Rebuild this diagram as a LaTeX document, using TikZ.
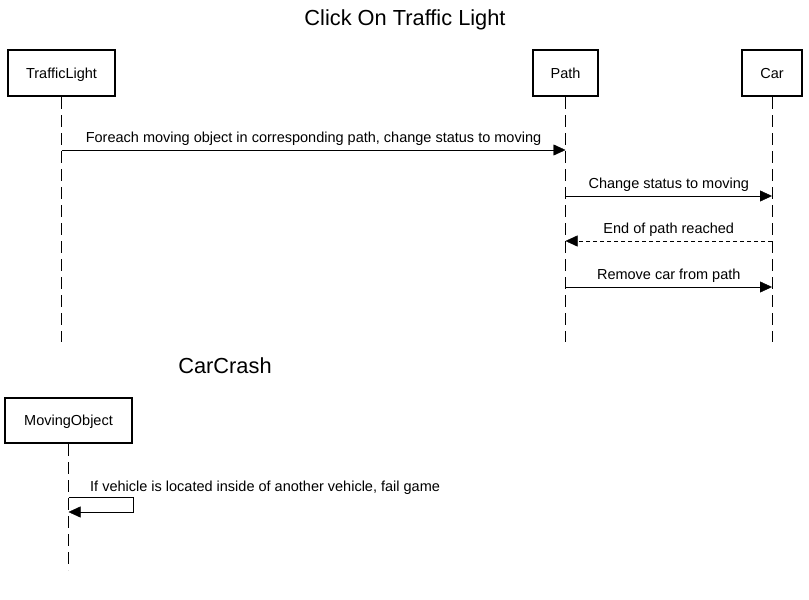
\documentclass[tikz,border=0pt]{standalone}
\usepackage{fontspec}
\setmainfont{Liberation Sans}
\usetikzlibrary{arrows.meta}

\begin{document}
\begin{tikzpicture}[x=1pt,y=-1pt,
    actor/.style={draw, line width=2pt, minimum height=46pt, inner sep=0pt, text depth=0pt, font=\fontsize{14.5}{16}\selectfont},
    life/.style={dash pattern=on 12pt off 6pt},
    msg/.style={-{Triangle[length=12pt,width=11pt]}},
    reply/.style={msg, dash pattern=on 4pt off 3pt},
    lbl/.style={above=4pt, inner sep=0pt, font=\fontsize{14.5}{16}\selectfont},
    heading/.style={font=\fontsize{21.8}{24}\selectfont}]
    \useasboundingbox (0,0) rectangle (809,600);

    % Titles
    \node[heading] (title1) at (405,20) {Click On Traffic Light};
    \node[heading] (title2) at (225,366) {CarCrash};

    % Nodes
    \node[actor, minimum width=107pt] (tl) at (61.5,73) {TrafficLight};
    \node[actor, minimum width=65pt] (path) at (565.5,73) {Path};
    \node[actor, minimum width=60pt] (car) at (772,73) {Car};
    \node[actor, minimum width=127pt, minimum height=45pt] (mo) at (68.5,420.5) {MovingObject};

    % Lifelines
    \coordinate (tlEnd) at (61.5,342);
    \coordinate (pathEnd) at (565.5,342);
    \coordinate (carEnd) at (772,342);
    \coordinate (moEnd) at (68.5,570);
    \path[draw,life]
        (tl) -- (tlEnd)
        (path) -- (pathEnd)
        (car) -- (carEnd)
        (mo) -- (moEnd);

    % Messages
    \coordinate (m1) at (0,150);
    \coordinate (m2) at (0,196);
    \coordinate (m3) at (0,241);
    \coordinate (m4) at (0,287);
    \draw[msg] (tl |- m1) -- node[lbl] {Foreach moving object in corresponding path, change status to moving} (path |- m1);
    \draw[msg] (path |- m2) -- node[lbl] {Change status to moving} (car |- m2);
    \draw[reply] (car |- m3) -- node[lbl] {End of path reached} (path |- m3);
    \draw[msg] (path |- m4) -- node[lbl] {Remove car from path} (car |- m4);

    % Self message
    \coordinate (s1) at (0,497);
    \coordinate (s2) at (0,512);
    \draw[msg] (mo |- s1) -- ++(65,0) -- ++(0,15) -- (mo |- s2);
    \node[inner sep=0pt, anchor=base west, font=\fontsize{14.5}{16}\selectfont] (selfLbl) at (90,491) {If vehicle is located inside of another vehicle, fail game};
\end{tikzpicture}
\end{document}
